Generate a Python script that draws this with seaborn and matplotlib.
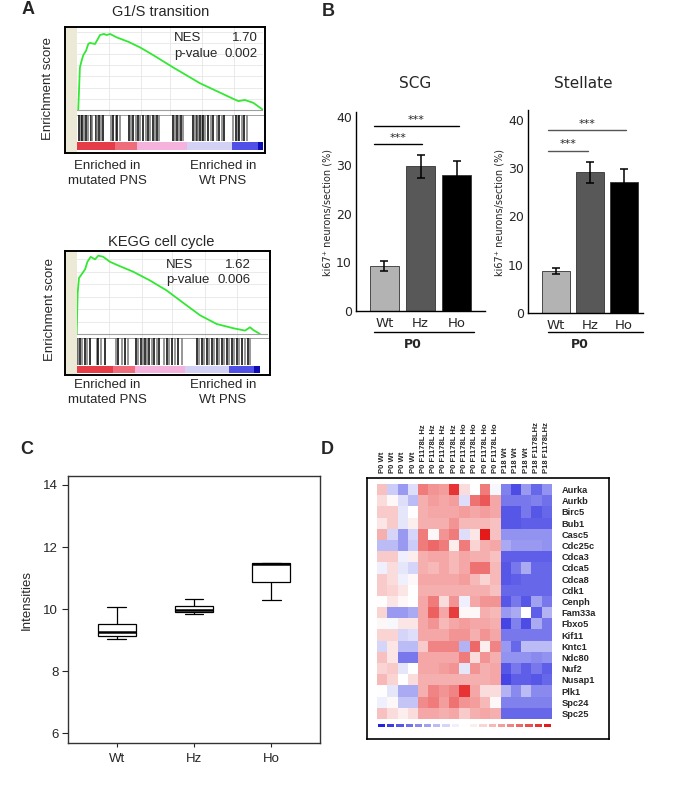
import numpy as np
import pandas as pd
import matplotlib
matplotlib.use("Agg")
import matplotlib.pyplot as plt
import seaborn as sns
from matplotlib.colors import LinearSegmentedColormap
from matplotlib.lines import Line2D

sns.set_theme(style="white")
plt.rcParams["font.family"] = ["Liberation Sans", "DejaVu Sans"]

# ---------------- data ----------------
# Panel A: GSEA running enrichment scores (rank fraction, ES)
g1s_rank = [0.005, 0.014, 0.023, 0.032, 0.047, 0.059, 0.068, 0.095, 0.109, 0.122,
            0.143, 0.158, 0.176, 0.211, 0.274, 0.337, 0.409, 0.516, 0.588, 0.659,
            0.749, 0.839, 0.866, 0.901, 0.946, 1.0]
g1s_es = [0.0, 0.38, 0.44, 0.49, 0.53, 0.59, 0.60, 0.59, 0.63, 0.67,
          0.68, 0.67, 0.68, 0.65, 0.61, 0.56, 0.49, 0.38, 0.31, 0.24,
          0.17, 0.10, 0.08, 0.09, 0.065, 0.0]
g1s_hits = [0.009, 0.018, 0.027, 0.036, 0.045, 0.059, 0.072, 0.081, 0.099, 0.108,
            0.117, 0.126, 0.140, 0.179, 0.194, 0.206, 0.215, 0.230, 0.278, 0.288,
            0.301, 0.314, 0.328, 0.337, 0.355, 0.368, 0.382, 0.391, 0.405, 0.418,
            0.427, 0.439, 0.516, 0.525, 0.534, 0.547, 0.556, 0.566, 0.624, 0.633,
            0.642, 0.651, 0.660, 0.669, 0.677, 0.686, 0.704, 0.717, 0.731, 0.749,
            0.763, 0.776, 0.788, 0.839, 0.851, 0.862, 0.871, 0.883, 0.896, 0.910]

kegg_rank = [0.0, 0.005, 0.012, 0.026, 0.044, 0.056, 0.073, 0.096, 0.113, 0.139,
             0.174, 0.218, 0.296, 0.383, 0.470, 0.557, 0.645, 0.732, 0.819, 0.880,
             0.906, 0.923, 0.958]
kegg_es = [0.0, 0.33, 0.45, 0.48, 0.52, 0.58, 0.62, 0.60, 0.63, 0.62,
           0.58, 0.55, 0.50, 0.43, 0.35, 0.25, 0.15, 0.08, 0.046, 0.027,
           0.054, 0.032, 0.0]
kegg_hits = [0.000, 0.009, 0.017, 0.026, 0.043, 0.052, 0.070, 0.104, 0.113, 0.125,
             0.148, 0.205, 0.218, 0.235, 0.252, 0.270, 0.310, 0.322, 0.336, 0.348,
             0.357, 0.369, 0.380, 0.392, 0.404, 0.418, 0.432, 0.456, 0.470, 0.484,
             0.496, 0.514, 0.531, 0.549, 0.627, 0.641, 0.653, 0.666, 0.680, 0.694,
             0.706, 0.720, 0.732, 0.746, 0.758, 0.770, 0.784, 0.796, 0.810, 0.822,
             0.836, 0.848, 0.862, 0.880, 0.894, 0.906]

# Panel B: ki67+ neurons/section (%)
genotypes = ["Wt", "Hz", "Ho"]
scg_mean = [9.3, 29.8, 28.0]
scg_err = [1.1, 2.4, 2.9]
stellate_mean = [8.7, 29.1, 27.2]
stellate_err = [0.7, 2.1, 2.6]

# Panel C: box statistics (low whisker, Q1, median, Q3, high whisker)
box_groups = ["Wt", "Hz", "Ho"]
box_wt = [9.02, 9.14, 9.26, 9.51, 10.05]
box_hz = [9.83, 9.92, 9.98, 10.09, 10.31]
box_ho = [10.29, 10.87, 11.45, 11.47, 11.47]

# Panel D: heatmap
genes = ["Aurka", "Aurkb", "Birc5", "Bub1", "Casc5", "Cdc25c", "Cdca3", "Cdca5",
         "Cdca8", "Cdk1", "Cenph", "Fam33a", "Fbxo5", "Kif11", "Kntc1", "Ndc80",
         "Nuf2", "Nusap1", "Plk1", "Spc24", "Spc25"]
samples = ["P0 Wt"] * 4 + ["P0 F1178L Hz"] * 4 + ["P0 F1178L Ho"] * 4 + \
          ["P18 Wt"] * 3 + ["P18 F1178LHz"] * 2
p0_wt = [[0.7, -0.6, -1.2, -0.4], [0.4, 0.1, -0.4, -0.8], [0.6, 0.6, -0.3, 0.0],
         [0.3, 0.6, -0.3, 0.2], [0.9, -0.5, -1.2, -0.5], [-0.8, -0.8, -1.2, -0.6],
         [0.6, 0.6, -0.2, 0.2], [-0.2, 0.4, -0.3, -0.5], [0.6, 0.4, -0.2, 0.1],
         [0.6, 0.5, 0.3, 0.0], [0.0, 0.3, 0.1, 0.0], [0.5, -1.2, -1.2, -1.0],
         [0.1, -0.1, 0.3, 0.3], [0.5, 0.5, -0.5, -0.4], [-0.5, 0.3, -0.8, -0.8],
         [0.7, 0.3, -1.6, -1.6], [0.5, 0.6, -0.3, 0.0], [0.8, 0.5, 0.0, 0.4],
         [0.0, -0.3, -1.0, -1.0], [-0.2, 0.1, -0.7, -0.7], [0.7, 0.4, 0.2, 0.4]]
p0_hz = [[1.5, 1.2, 1.1, 2.3], [0.9, 1.1, 1.0, 1.1], [0.9, 1.0, 1.0, 1.0],
         [0.9, 0.9, 0.9, 1.2], [1.5, 0.1, 1.2, 1.5], [1.5, 1.7, 1.5, 0.2],
         [0.9, 1.0, 1.0, 0.8], [0.9, 0.8, 1.0, 0.8], [1.0, 1.0, 1.0, 1.0],
         [0.9, 0.9, 0.9, 0.9], [1.0, 1.5, 0.4, 1.2], [1.0, 1.8, 1.0, 2.2],
         [1.0, 1.2, 0.8, 1.0], [1.0, 1.0, 1.0, 1.2], [0.6, 1.4, 1.4, 1.4],
         [1.0, 1.0, 1.0, 1.0], [1.0, 1.0, 1.1, 1.2], [0.9, 0.9, 0.9, 0.9],
         [0.9, 1.4, 1.2, 1.4], [1.3, 1.5, 1.1, 1.6], [1.0, 1.0, 0.9, 1.0]]
p0_ho = [[0.4, 0.0, 1.5, -0.1], [-0.4, 1.6, 1.9, 1.0], [1.1, 1.0, 1.1, 1.0],
         [0.8, 0.8, 0.8, 0.7], [-0.4, 0.3, 2.6, 0.7], [1.5, 0.5, 0.9, 1.0],
         [1.0, 0.9, 0.9, 0.7], [1.0, 1.6, 1.6, 0.8], [1.1, 0.8, 0.5, 0.8],
         [0.9, 0.9, 0.9, 0.7], [-0.2, 1.0, 1.2, 1.2], [0.1, 0.1, 0.9, 0.8],
         [1.1, 1.0, 1.0, 0.9], [1.2, 0.9, 1.2, 1.0], [-0.9, 1.7, 0.2, 1.4],
         [1.5, 0.4, 1.2, 0.9], [-0.3, 1.2, 0.9, 1.0], [0.9, 0.9, 0.9, 1.0],
         [2.3, 1.0, 0.4, 0.4], [1.2, 1.1, 0.8, 0.1], [0.6, 0.9, 1.0, 0.9]]
p18_wt = [[-1.5, -2.1, -1.2], [-1.6, -1.6, -1.6], [-2.0, -2.0, -1.6],
          [-2.0, -2.0, -1.9], [-1.3, -1.3, -1.3], [-1.0, -1.2, -1.2],
          [-1.9, -1.9, -1.9], [-2.0, -1.6, -1.0], [-2.0, -1.9, -1.8],
          [-1.8, -1.8, -1.8], [-2.0, -1.6, -2.0], [-1.2, -1.0, 0.0],
          [-2.2, -1.5, -2.1], [-1.6, -1.6, -1.6], [-1.2, -1.8, -0.8],
          [-1.3, -1.3, -1.3], [-2.0, -1.6, -1.9], [-2.2, -1.9, -1.9],
          [-0.9, -1.4, -0.8], [-1.5, -1.5, -1.5], [-1.8, -1.8, -1.8]]
p18_hz = [[-1.8, -1.3], [-1.5, -1.7], [-2.0, -1.8], [-1.9, -1.9], [-1.3, -1.3],
          [-1.2, -1.3], [-1.9, -1.9], [-1.8, -1.8], [-1.8, -1.8], [-1.8, -1.8],
          [-1.1, -1.6], [-1.9, -0.9], [-1.0, -1.6], [-1.6, -1.6], [-0.8, -0.8],
          [-1.4, -1.3], [-1.6, -1.9], [-2.0, -1.8], [-1.4, -1.4], [-1.5, -1.5],
          [-1.8, -1.8]]
legend_vals = [-2.6, -2.3, -2.0, -1.7, -1.4, -1.1, -0.8, -0.5, -0.2, 0.0,
               0.2, 0.5, 0.8, 1.1, 1.4, 1.7, 2.0, 2.3, 2.6]

# ---------------- figure helpers ----------------
W, H = 673, 789
fig = plt.figure(figsize=(W / 100, H / 100), dpi=100)
fig.patch.set_facecolor("white")


def ax_at(x0, y0, x1, y1):
    return fig.add_axes([x0 / W, 1 - y1 / H, (x1 - x0) / W, (y1 - y0) / H])


def ftext(x, y, s, **kw):
    fig.text(x / W, 1 - y / H, s, **kw)


def fline(x0, x1, y, **kw):
    fig.add_artist(Line2D([x0 / W, x1 / W], [1 - y / H, 1 - y / H],
                          transform=fig.transFigure, **kw))


# ---------------- Panel A ----------------
strip_edges = [0.0, 0.20, 0.32, 0.59, 0.83, 0.97, 1.0]
strip_cols = ["#e63c48", "#ef6c7a", "#f5b2dc", "#d4d2f4", "#5050e6", "#0c0cb4"]


def gsea(frame, x_in0, x_in1, y_curve, y_bars, y_strip, rank, es, hits,
         ylim, yticks, strip_end):
    fx0, fy0, fx1, fy1 = frame
    fr = ax_at(fx0, fy0, fx1, fy1)
    fr.set_xlim(0, 1)
    fr.set_ylim(0, 1)
    fr.set_xticks([])
    fr.set_yticks([])
    fr.axvspan(0, (x_in0 - fx0) / (fx1 - fx0), color="#ecead6", lw=0)
    for s in fr.spines.values():
        s.set_visible(True)
        s.set_color("black")
        s.set_linewidth(1.4)
    fr.set_zorder(5)
    fr.patch.set_alpha(0)

    cax = ax_at(x_in0, fy0 + 1, x_in1, y_curve)
    cax.set_facecolor("white")
    sns.lineplot(x=rank, y=es, ax=cax, color="#33e833", linewidth=1.3,
                 estimator=None)
    cax.axhline(0, color="#a0a0a0", lw=0.8)
    cax.set_xlim(0, 1)
    cax.set_ylim(*ylim)
    cax.set_xticks([0.17, 0.34, 0.5, 0.67, 0.84])
    cax.set_xticklabels([])
    cax.set_yticks(yticks)
    cax.set_yticklabels([f"{t:.1f}" for t in yticks], fontsize=3.2)
    cax.tick_params(length=0, pad=1.5)
    cax.grid(True, color="#e6e6e6", lw=0.6)
    cax.set_xlabel("")
    cax.set_ylabel("")
    for k, s in cax.spines.items():
        s.set_visible(k == "bottom")
    cax.spines["bottom"].set_color("#909090")
    cax.spines["bottom"].set_linewidth(0.6)

    bax = ax_at(x_in0, y_curve, x_in1, y_bars)
    cols = ["black" if i % 2 == 0 else "#7a7a7a" for i in range(len(hits))]
    bax.vlines(hits, 0.04, 1.0, colors=cols, lw=1.1)
    bax.set_xlim(0, 1)
    bax.set_ylim(0, 1)
    bax.axis("off")

    sax = ax_at(x_in0, y_bars, x_in1, y_strip)
    for (a, b), c in zip(zip(strip_edges[:-1], strip_edges[1:]), strip_cols):
        sax.axvspan(a * strip_end, b * strip_end, color=c, lw=0)
    sax.set_xlim(0, 1)
    sax.axis("off")


gsea((65, 27, 265, 153), 77.3, 263.3, 115, 142, 150,
     g1s_rank, g1s_es, g1s_hits, (-0.044, 0.733),
     [0.0, 0.1, 0.2, 0.3, 0.4, 0.5, 0.6, 0.7], 1.0)
gsea((65, 251, 270, 375), 76.7, 268.0, 337.7, 366, 373,
     kegg_rank, kegg_es, kegg_hits, (-0.03, 0.659),
     [0.0, 0.1, 0.2, 0.3, 0.4, 0.5, 0.6], 0.958)

ftext(161, 12, "G1/S transition", fontsize=10.5, ha="center", va="center")
ftext(161, 242, "KEGG cell cycle", fontsize=10.5, ha="center", va="center")
ftext(48, 88, "Enrichment score", fontsize=9.5, rotation=90, ha="center", va="center")
ftext(50, 310, "Enrichment score", fontsize=9.5, rotation=90, ha="center", va="center")
ftext(174, 38, "NES", fontsize=9.5, ha="left", va="center")
ftext(258, 38, "1.70", fontsize=9.5, ha="right", va="center")
ftext(174, 54, "p-value", fontsize=9.5, ha="left", va="center")
ftext(258, 54, "0.002", fontsize=9.5, ha="right", va="center")
ftext(166, 265, "NES", fontsize=9.5, ha="left", va="center")
ftext(251, 265, "1.62", fontsize=9.5, ha="right", va="center")
ftext(166, 280, "p-value", fontsize=9.5, ha="left", va="center")
ftext(251, 280, "0.006", fontsize=9.5, ha="right", va="center")
for yy in (166, 385):
    ftext(107, yy, "Enriched in", fontsize=9.5, ha="center", va="center")
    ftext(223, yy, "Enriched in", fontsize=9.5, ha="center", va="center")
    ftext(107, yy + 15, "mutated PNS", fontsize=9.5, ha="center", va="center")
    ftext(223, yy + 15, "Wt PNS", fontsize=9.5, ha="center", va="center")

# ---------------- Panel B ----------------
bar_cols = ["#b3b3b3", "#585858", "#000000"]
BF = ["DejaVu Sans"]


def bar_panel(box, means, errs, ylim, xlim, sig_lines, line_col):
    ax = ax_at(*box)
    sns.barplot(x=genotypes, y=means, hue=genotypes, palette=bar_cols,
                legend=False, width=0.8, edgecolor="#333333", linewidth=0.6,
                ax=ax)
    ax.errorbar(range(len(means)), means, yerr=errs, fmt="none",
                ecolor="black", elinewidth=1.1, capsize=3.2, capthick=1.1)
    ax.set_ylim(*ylim)
    ax.set_xlim(*xlim)
    ax.set_yticks([0, 10, 20, 30, 40])
    ax.set_yticklabels(["0", "10", "20", "30", "40"], fontsize=9, family=BF)
    ax.set_xticks(range(3))
    ax.set_xticklabels(genotypes, fontsize=9.5, family=BF)
    ax.tick_params(length=0, pad=4)
    ax.tick_params(axis="y", pad=3)
    ax.set_xlabel("")
    ax.set_ylabel("")
    for k in ("top", "right"):
        ax.spines[k].set_visible(False)
    for k in ("left", "bottom"):
        ax.spines[k].set_visible(True)
        ax.spines[k].set_color("black")
        ax.spines[k].set_linewidth(1.0)
    for x0, x1, yl, ys in sig_lines:
        ax.plot([x0, x1], [yl, yl], color=line_col, lw=1.0, clip_on=False)
        ax.text((x0 + x1) / 2, ys, "***", ha="center", va="center",
                fontsize=8, family=BF, clip_on=False)
    return ax


bar_panel((356, 112, 485, 311), scg_mean, scg_err, (0, 41), (-0.79, 2.79),
          [(-0.29, 2.07, 38.1, 39.4), (-0.29, 1.04, 34.4, 35.7)], "black")
bar_panel((528, 110, 643, 313), stellate_mean, stellate_err, (0, 42), (-0.82, 2.56),
          [(-0.23, 2.06, 37.9, 39.2), (-0.23, 0.94, 33.6, 34.9)], "#555555")

ftext(415, 83, "SCG", fontsize=11, ha="center", va="center", family=BF)
ftext(583, 83, "Stellate", fontsize=11, ha="center", va="center", family=BF)
ftext(328, 213, "ki67\u207a neurons/section (%)", fontsize=7, rotation=90,
      ha="center", va="center", family=BF)
ftext(500, 213, "ki67\u207a neurons/section (%)", fontsize=7, rotation=90,
      ha="center", va="center", family=BF)
fline(374, 474, 332, color="black", lw=1.0)
fline(548, 643, 332, color="black", lw=1.0)
ftext(413, 344, "P0", fontsize=9, fontweight="bold", ha="center", va="center", family=BF)
ftext(580, 344, "P0", fontsize=9, fontweight="bold", ha="center", va="center", family=BF)

# ---------------- Panel C ----------------
axc = ax_at(68, 476, 320, 743)
dfc = pd.DataFrame({
    "group": [g for g, vals in zip(box_groups, [box_wt, box_hz, box_ho]) for _ in vals],
    "value": box_wt + box_hz + box_ho,
})
sns.boxplot(data=dfc, x="group", y="value", order=box_groups, ax=axc,
            whis=(0, 100), width=0.49, color="white", linecolor="black",
            linewidth=0.9, fliersize=0, medianprops={"linewidth": 1.8})
axc.set_ylim(5.68, 14.29)
axc.set_xlim(-0.63, 2.63)
axc.set_yticks([6, 8, 10, 12, 14])
axc.set_yticklabels(["6", "8", "10", "12", "14"], fontsize=9.5)
axc.set_xticklabels(box_groups, fontsize=9.5)
axc.tick_params(axis="y", direction="out", length=4, width=0.8, left=True, pad=3)
axc.tick_params(axis="x", direction="out", length=3, width=0.8, bottom=True, pad=4)
axc.set_xlabel("")
axc.set_ylabel("")
for s in axc.spines.values():
    s.set_visible(True)
    s.set_color("#333333")
    s.set_linewidth(1.0)
ftext(27, 600, "Intensities", fontsize=9.5, rotation=90, ha="center", va="center")

# ---------------- Panel D ----------------
cmap = LinearSegmentedColormap.from_list("hm", ["#2424e0", "#ffffff", "#e41a1a"])
heat = np.hstack([np.array(p0_wt), np.array(p0_hz), np.array(p0_ho),
                  np.array(p18_wt), np.array(p18_hz)])
dfh = pd.DataFrame(heat, index=genes)

frd = ax_at(367, 478, 609, 739)
frd.set_xticks([])
frd.set_yticks([])
frd.set_facecolor("white")
for s in frd.spines.values():
    s.set_visible(True)
    s.set_color("black")
    s.set_linewidth(1.2)

axh = ax_at(377, 484, 552, 719)
sns.heatmap(dfh, ax=axh, cmap=cmap, vmin=-2.6, vmax=2.6, cbar=False,
            xticklabels=samples, yticklabels=genes)
axh.xaxis.tick_top()
axh.yaxis.tick_right()
axh.tick_params(length=0)
axh.tick_params(axis="x", pad=8)
axh.tick_params(axis="y", pad=7)
axh.set_xticklabels(samples, rotation=90, fontsize=5.5, fontweight="bold")
axh.set_yticklabels(genes, rotation=0, fontsize=6.7, fontweight="bold")
axh.set_xlabel("")
axh.set_ylabel("")

axl = ax_at(377, 723, 552, 728)
sns.heatmap(pd.DataFrame([legend_vals]), ax=axl, cmap=cmap, vmin=-2.6, vmax=2.6,
            cbar=False, xticklabels=False, yticklabels=False,
            linewidths=1.2, linecolor="white")

# ---------------- panel letters ----------------
for x, y, s in [(28, 10, "A"), (328, 12, "B"), (27, 450, "C"), (327, 450, "D")]:
    ftext(x, y, s, fontsize=13, fontweight="bold", ha="center", va="center")

fig.savefig("out.png", dpi=100)
